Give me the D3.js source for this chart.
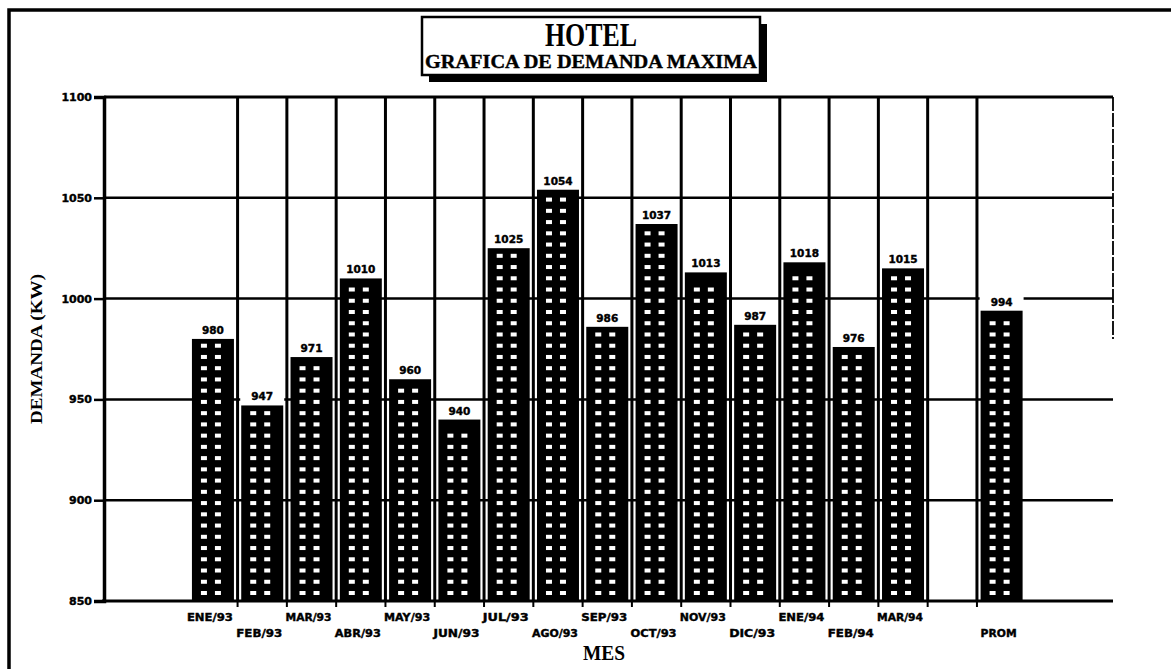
<!DOCTYPE html>
<html>
<head>
<meta charset="utf-8">
<script src="https://cdn.jsdelivr.net/npm/d3@7"></script>
<style>
  html, body { margin: 0; padding: 0; background: #fff; }
  svg { display: block; }
</style>
</head>
<body>
<svg id="chart" width="1171" height="669"></svg>
<script>
// Monthly maximum demand (kW); the blank slot separates the months from the average bar
const categories = ["ENE/93","FEB/93","MAR/93","ABR/93","MAY/93","JUN/93","JUL/93","AGO/93",
                    "SEP/93","OCT/93","NOV/93","DIC/93","ENE/94","FEB/94","MAR/94","","PROM"];
const demand     = [980, 947, 971, 1010, 960, 940, 1025, 1054,
                    986, 1037, 1013, 987, 1018, 976, 1015, null, 994];
const yTicks     = [850, 900, 950, 1000, 1050, 1100];

const svg = d3.select("#chart");
const ink = "#000";

const plot = { left: 104, right: 1113, top: 97, bottom: 601 };

const x = d3.scaleLinear().domain([-2.21, 18.26]).range([plot.left, plot.right]);
const y = d3.scaleLinear().domain([850, 1100]).range([plot.bottom, plot.top]);
const barW = 42;

// Page frame
svg.append("path")
  .attr("d", "M9,669 V10 H1171")
  .attr("fill", "none").attr("stroke", ink).attr("stroke-width", 3.5);

// Title box with drop shadow
const tb = { x: 422, y: 17, w: 338, h: 58 };
svg.append("rect").attr("x", tb.x + 7).attr("y", tb.y + 7).attr("width", tb.w).attr("height", tb.h).attr("fill", ink);
svg.append("rect").attr("x", tb.x).attr("y", tb.y).attr("width", tb.w).attr("height", tb.h)
  .attr("fill", "#fff").attr("stroke", ink).attr("stroke-width", 2.5);
svg.append("text").attr("x", tb.x + tb.w / 2).attr("y", 46)
  .attr("text-anchor", "middle").attr("font-family", "Liberation Serif, serif").attr("font-weight", "bold")
  .attr("font-size", 33).attr("textLength", 92).attr("lengthAdjust", "spacingAndGlyphs")
  .text("HOTEL");
svg.append("text").attr("x", tb.x + tb.w / 2).attr("y", 68)
  .attr("text-anchor", "middle").attr("font-family", "Liberation Serif, serif").attr("font-weight", "bold")
  .attr("font-size", 19).attr("textLength", 332).attr("lengthAdjust", "spacingAndGlyphs")
  .attr("stroke", ink).attr("stroke-width", 0.4)
  .text("GRAFICA DE DEMANDA MAXIMA");

// Horizontal grid lines (the 1100 line closes the top of the plot)
svg.append("g").selectAll("line").data(yTicks.slice(1)).join("line")
  .attr("x1", plot.left).attr("x2", plot.right)
  .attr("y1", d => y(d)).attr("y2", d => y(d))
  .attr("stroke", ink).attr("stroke-width", d => d === 1100 ? 3 : 2.5);

// Vertical grid lines between category slots
const vGrid = d3.range(0.5, 16, 1);
svg.append("g").selectAll("line").data(vGrid).join("line")
  .attr("x1", d => x(d)).attr("x2", d => x(d))
  .attr("y1", plot.top).attr("y2", plot.bottom)
  .attr("stroke", ink).attr("stroke-width", 3);

// Right edge of the plot, drawn only over the upper part
svg.append("line")
  .attr("x1", plot.right).attr("x2", plot.right)
  .attr("y1", y(1100)).attr("y2", y(980))
  .attr("stroke", ink).attr("stroke-width", 1.8).attr("stroke-dasharray", "14,2");

// Bars
const bars = categories.map((c, i) => ({ c, i, v: demand[i] })).filter(d => d.v != null);

const gBars = svg.append("g");
gBars.selectAll("rect.bar").data(bars).join("rect")
  .attr("class", "bar")
  .attr("x", d => x(d.i) - barW / 2)
  .attr("y", d => y(d.v))
  .attr("width", barW)
  .attr("height", d => y(850) - y(d.v))
  .attr("fill", ink);

// White dot texture inside every bar
const dotStep = 11.24;
bars.forEach(d => {
  const top = y(d.v);
  const rows = [];
  for (let yy = plot.bottom - 8; yy > top + 6; yy -= dotStep) rows.push(yy);
  gBars.append("g").selectAll("rect").data(rows.flatMap(r => [[-9, r], [5, r]])).join("rect")
    .attr("x", p => x(d.i) + p[0] - 3)
    .attr("y", p => p[1] - 2)
    .attr("width", 6).attr("height", 4)
    .attr("fill", "#fff");
});

// Value labels on white boxes above the bars
const gLab = svg.append("g");
gLab.selectAll("rect").data(bars).join("rect")
  .attr("x", d => x(d.i) - barW / 2 - 1)
  .attr("y", d => y(d.v) - 16)
  .attr("width", barW + 2).attr("height", 14)
  .attr("fill", "#fff");
gLab.selectAll("text").data(bars).join("text")
  .attr("x", d => x(d.i))
  .attr("y", d => y(d.v) - 5)
  .attr("text-anchor", "middle")
  .attr("font-family", "DejaVu Sans, sans-serif").attr("font-weight", "bold")
  .attr("font-size", 10.5)
  .attr("stroke", ink).attr("stroke-width", 0.4)
  .text(d => d.v);

// Y axis
const yAxis = d3.axisLeft(y).tickValues(yTicks).tickSize(10).tickPadding(2).tickFormat(d3.format("d"));
const gy = svg.append("g").attr("transform", `translate(${plot.left},0)`).call(yAxis);
gy.select(".domain").attr("stroke", ink).attr("stroke-width", 3.5);
gy.selectAll(".tick line").attr("stroke", ink).attr("stroke-width", 2.5);
gy.selectAll(".tick text")
  .attr("fill", ink).attr("font-family", "DejaVu Sans, sans-serif").attr("font-weight", "bold")
  .attr("font-size", 11).attr("stroke", ink).attr("stroke-width", 0.4);

// X axis: baseline and small ticks on the slot boundaries
svg.append("line")
  .attr("x1", plot.left - 2).attr("x2", plot.right)
  .attr("y1", plot.bottom).attr("y2", plot.bottom)
  .attr("stroke", ink).attr("stroke-width", 3);
svg.append("g").selectAll("line").data(vGrid).join("line")
  .attr("x1", d => x(d)).attr("x2", d => x(d))
  .attr("y1", plot.bottom).attr("y2", plot.bottom + 6)
  .attr("stroke", ink).attr("stroke-width", 2);

// Category labels, staggered on two rows
svg.append("g").selectAll("text").data(categories.map((c, i) => ({ c, i })).filter(d => d.c)).join("text")
  .attr("x", d => x(d.i) - 3)
  .attr("y", d => ((d.i === categories.length - 1) || d.i % 2 === 1) ? 637 : 621)
  .attr("text-anchor", "middle")
  .attr("font-family", "DejaVu Sans, sans-serif").attr("font-weight", "bold")
  .attr("font-size", 10.5)
  .attr("textLength", d => d.c.length > 4 ? 46 : 36).attr("lengthAdjust", "spacingAndGlyphs")
  .attr("stroke", ink).attr("stroke-width", 0.4)
  .text(d => d.c);

// Axis titles
svg.append("text")
  .attr("x", 604).attr("y", 660)
  .attr("text-anchor", "middle")
  .attr("font-family", "Liberation Serif, serif").attr("font-weight", "bold")
  .attr("font-size", 21).attr("textLength", 42).attr("lengthAdjust", "spacingAndGlyphs")
  .text("MES");

svg.append("text")
  .attr("transform", `translate(42,${(plot.top + plot.bottom) / 2}) rotate(-90)`)
  .attr("text-anchor", "middle")
  .attr("font-family", "Liberation Serif, serif").attr("font-weight", "bold")
  .attr("font-size", 17).attr("textLength", 150).attr("lengthAdjust", "spacingAndGlyphs")
  .text("DEMANDA (KW)");
</script>
</body>
</html>
